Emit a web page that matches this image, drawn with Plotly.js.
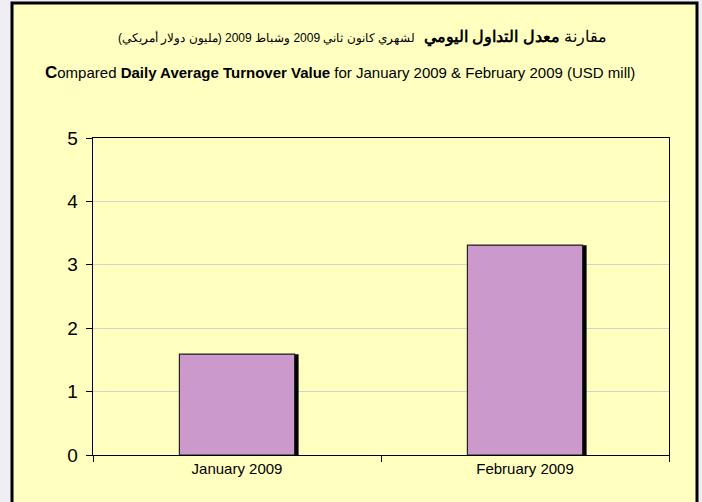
<!DOCTYPE html>
<html><head><meta charset="utf-8">
<script src="https://cdn.plot.ly/plotly-3.0.1.min.js"></script>
<style>html,body{margin:0;padding:0;}#chart{width:702px;height:502px;}</style>
</head><body><div id="chart"></div>
<script>
var categories = ['January 2009', 'February 2009'];
var values = [1.59, 3.31];
var yTicks = [0, 1, 2, 3, 4, 5];

var W = 702, H = 502, L = 93, R = 33, T = 138, B = 47;
var pw = W - L - R, ph = H - T - B;
function px(x) { return (x - L) / pw; }
function py(y) { return (H - B - y) / ph; }

var shadow = {
  type: 'bar', x: categories, y: values,
  width: 0.4, offset: -0.2 + 4 / 288,
  marker: { color: '#000000', line: { width: 0 } },
  hoverinfo: 'skip', showlegend: false
};
var bars = {
  type: 'bar', x: categories, y: values,
  width: 0.4, offset: -0.2,
  marker: { color: '#CC99CC', line: { color: '#222222', width: 1.2 } },
  showlegend: false
};

var fontFam = '"Liberation Sans Narrow", "Arial Narrow", "Liberation Sans", Arial, sans-serif';
var layout = {
  width: W, height: H,
  margin: { l: L, r: R, t: T, b: B, pad: 0 },
  paper_bgcolor: '#F0EEF2',
  plot_bgcolor: '#FFFFC0',
  barmode: 'overlay',
  showlegend: false,
  xaxis: {
    type: 'category', tickson: 'boundaries', ticks: 'outside', ticklen: 6, tickcolor: '#000',
    showline: true, linecolor: '#000', linewidth: 1.3, mirror: true,
    showgrid: false, tickfont: { family: fontFam, size: 15, color: '#000' },
    fixedrange: true
  },
  yaxis: {
    range: [0, 5], tickvals: yTicks, ticks: 'outside', ticklen: 6, tickcolor: '#000',
    showline: true, linecolor: '#000', linewidth: 1.3, mirror: true,
    showgrid: true, gridcolor: '#D2D2D2', gridwidth: 1, zeroline: false,
    tickfont: { family: fontFam, size: 19, color: '#000' }, ticklabelstandoff: 4,
    fixedrange: true
  },
  shapes: [
    { type: 'rect', xref: 'paper', yref: 'paper', layer: 'below',
      x0: px(12), x1: px(697), y0: py(3), y1: py(508),
      fillcolor: '#FFFFC0', line: { color: '#000', width: 3 } }
  ],
  annotations: [
    { xref: 'paper', yref: 'paper', x: px(362), y: py(38), xanchor: 'center', yanchor: 'middle',
      text: 'مقارنة <b>معدل التداول اليومي</b>  <span style="font-size:12px">لشهري كانون ثاني 2009 وشباط 2009 (مليون دولار أمريكي)</span>',
      showarrow: false, font: { family: fontFam, size: 16, color: '#000' } },
    { xref: 'paper', yref: 'paper', x: px(340), y: py(73), xanchor: 'center', yanchor: 'middle',
      text: '<b><span style="font-size:17px">C</span></b>ompared <b>Daily Average Turnover Value</b> for January 2009 &amp; February 2009 (USD mill)',
      showarrow: false, font: { family: fontFam, size: 15, color: '#000' } }
  ]
};

Plotly.newPlot('chart', [shadow, bars], layout, { displayModeBar: false, staticPlot: true });
</script></body></html>
